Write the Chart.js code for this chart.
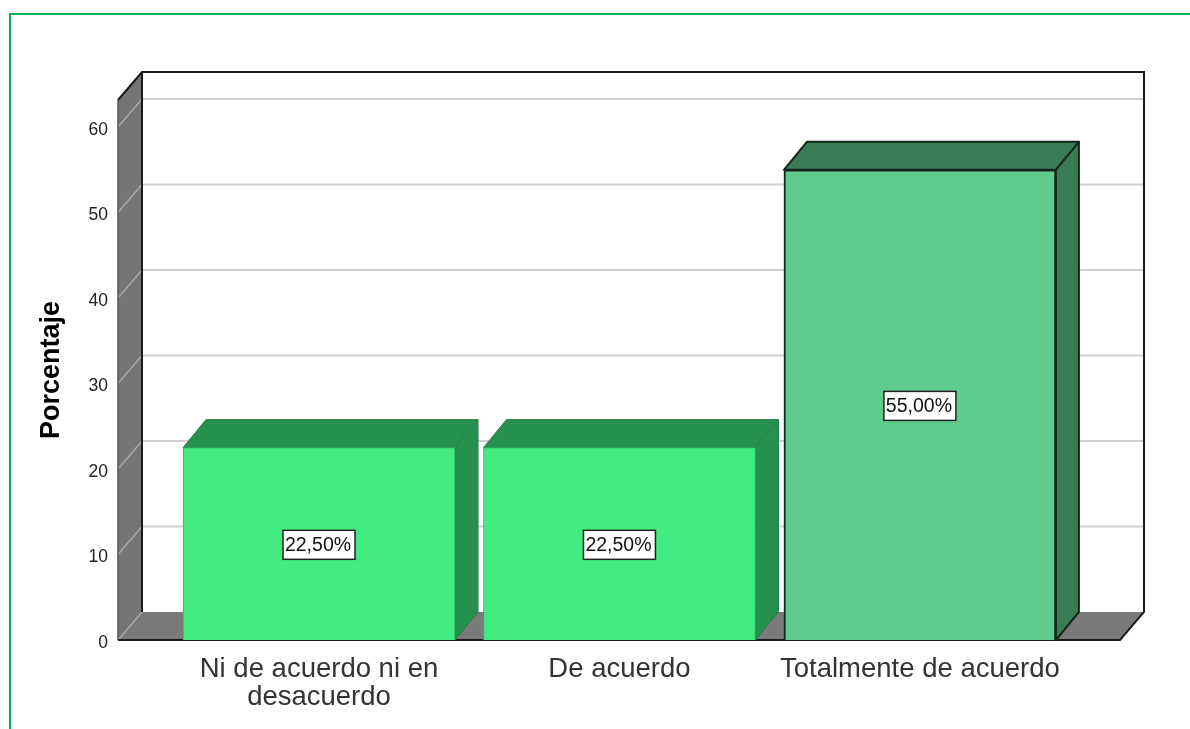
<!DOCTYPE html>
<html>
<head>
<meta charset="utf-8">
<style>
html,body{margin:0;padding:0;background:#fff;overflow:hidden}
#wrap{position:relative;width:1190px;height:729px}
#frame{position:absolute;left:9px;top:13px;right:0;bottom:0;border-top:2px solid #00b050;border-left:2px solid #00b050}
canvas{position:absolute;left:0;top:0;filter:blur(0.4px)}
</style>
<script src="https://cdn.jsdelivr.net/npm/chart.js@4"></script>
</head>
<body>
<div id="wrap">
<canvas id="c" width="1190" height="729"></canvas>
<div id="frame"></div>
</div>
<script>
const categories = [["Ni de acuerdo ni en", "desacuerdo"], "De acuerdo", "Totalmente de acuerdo"];
const percentages = [22.5, 22.5, 55];
const valueLabels = ["22,50%", "22,50%", "55,00%"];
const yTickValues = [0, 10, 20, 30, 40, 50, 60];
const yAxisTitle = "Porcentaje";

const FONT = '"Liberation Sans", Arial, sans-serif';
const DX = 24, DY = 28, BAR_DX = 23;
const frontColors = ["#42eb80", "#42eb80", "#5fcb8c"];
const sideColors = ["#26914f", "#26914f", "#3a7d54"];
const edgeColors = ["#2fb564", "#2fb564", "#16261c"];
const edgeWidths = [1, 1, 2];

function poly(ctx, pts, fill, stroke, lw) {
  ctx.beginPath();
  pts.forEach((p, i) => i ? ctx.lineTo(p[0], p[1]) : ctx.moveTo(p[0], p[1]));
  ctx.closePath();
  if (fill) { ctx.fillStyle = fill; ctx.fill(); }
  if (stroke) { ctx.strokeStyle = stroke; ctx.lineWidth = lw; ctx.lineJoin = "round"; ctx.stroke(); }
}

const box3d = {
  id: "box3d",
  beforeDatasetsDraw(chart) {
    const { ctx, chartArea: a, scales: { y } } = chart;
    ctx.save();
    // left wall
    poly(ctx, [[a.left, a.top], [a.left + DX, a.top - DY], [a.left + DX, a.bottom - DY], [a.left, a.bottom]], "#757575");
    // floor
    poly(ctx, [[a.left, a.bottom], [a.left + DX, a.bottom - DY], [a.right + DX, a.bottom - DY], [a.right, a.bottom]], "#7a7a7a");
    // grid lines on the back wall and the left wall
    yTickValues.forEach(v => {
      const py = y.getPixelForValue(v);
      ctx.strokeStyle = "#cfcfcf"; ctx.lineWidth = 2;
      if (v > 0) {
        ctx.beginPath(); ctx.moveTo(a.left + DX, py - DY); ctx.lineTo(a.right + DX, py - DY); ctx.stroke();
      }
      ctx.strokeStyle = "#a8a8a8"; ctx.lineWidth = 1.5;
      ctx.beginPath(); ctx.moveTo(a.left, py); ctx.lineTo(a.left + DX, py - DY); ctx.stroke();
    });
    // frame lines
    ctx.strokeStyle = "#1a1a1a"; ctx.lineWidth = 2;
    ctx.beginPath();
    ctx.moveTo(a.left, a.top); ctx.lineTo(a.left + DX, a.top - DY);
    ctx.lineTo(a.right + DX, a.top - DY); ctx.lineTo(a.right + DX, a.bottom - DY);
    ctx.lineTo(a.right, a.bottom); ctx.lineTo(a.left, a.bottom);
    ctx.stroke();
    ctx.beginPath(); ctx.moveTo(a.left + DX, a.top - DY); ctx.lineTo(a.left + DX, a.bottom - DY); ctx.stroke();
    ctx.strokeStyle = "#555"; ctx.lineWidth = 1.5;
    ctx.beginPath(); ctx.moveTo(a.left, a.top); ctx.lineTo(a.left, a.bottom); ctx.stroke();
    // bar tops and sides
    chart.getDatasetMeta(0).data.forEach((bar, i) => {
      const p = bar.getProps(["x", "y", "base", "width"], true);
      const l = p.x - p.width / 2, r = p.x + p.width / 2;
      const stroke = i === 2 ? edgeColors[i] : "#227f47";
      const lw = i === 2 ? 2 : 1;
      poly(ctx, [[l, p.y], [l + BAR_DX, p.y - DY], [r + BAR_DX, p.y - DY], [r, p.y]], sideColors[i], stroke, lw);
      poly(ctx, [[r, p.y], [r + BAR_DX, p.y - DY], [r + BAR_DX, p.base - DY], [r, p.base]], sideColors[i], stroke, lw);
    });
    ctx.restore();
  },
  afterDatasetsDraw(chart) {
    const { ctx } = chart;
    ctx.save();
    ctx.font = "19.5px " + FONT;
    ctx.textAlign = "center";
    ctx.textBaseline = "middle";
    chart.getDatasetMeta(0).data.forEach((bar, i) => {
      const p = bar.getProps(["x", "y", "base"], true);
      const cy = (p.y + p.base) / 2 + 1;
      const w = 72, h = 29;
      ctx.fillStyle = "#fff";
      ctx.fillRect(p.x - w / 2, cy - h / 2, w, h);
      ctx.strokeStyle = "#222"; ctx.lineWidth = 1.5;
      ctx.strokeRect(p.x - w / 2, cy - h / 2, w, h);
      ctx.fillStyle = "#111";
      ctx.fillText(valueLabels[i], p.x - 1, cy + 1);
    });
    ctx.restore();
  }
};

new Chart(document.getElementById("c"), {
  type: "bar",
  data: {
    datasets: [{
      data: percentages.map((v, i) => ({ x: i, y: v })),
      backgroundColor: frontColors,
      borderColor: edgeColors,
      borderWidth: edgeWidths,
      barThickness: 272
    }]
  },
  options: {
    responsive: false,
    animation: false,
    events: [],
    layout: { padding: { left: 0, top: 100, right: 70, bottom: 0 } },
    plugins: { legend: { display: false }, tooltip: { enabled: false }, title: { display: false } },
    scales: {
      x: {
        type: "linear",
        min: -0.669,
        max: 2.666,
        offset: false,
        grid: { display: false, drawTicks: false },
        border: { display: false },
        afterBuildTicks(s) { s.ticks = categories.map((_, i) => ({ value: i })); },
        afterFit(s) { s.height = 89; },
        ticks: {
          autoSkip: false, maxRotation: 0, minRotation: 0, padding: 15,
          color: "#333",
          font: { family: FONT, size: 27.5, lineHeight: 1.02 },
          callback: v => categories[v]
        }
      },
      y: {
        min: 0,
        max: 63.16,
        grid: { display: false, drawTicks: false },
        border: { display: false },
        afterBuildTicks(s) { s.ticks = yTickValues.map(v => ({ value: v })); },
        afterFit(s) { s.width = 118; },
        ticks: {
          padding: 10, labelOffset: 3, color: "#222",
          font: { family: FONT, size: 17.5 }
        },
        title: {
          display: true, text: yAxisTitle, color: "#000",
          padding: { top: 35, bottom: 0 },
          font: { family: FONT, size: 27, weight: "bold", lineHeight: 1.2 }
        }
      }
    }
  },
  plugins: [box3d]
});
</script>
</body>
</html>
